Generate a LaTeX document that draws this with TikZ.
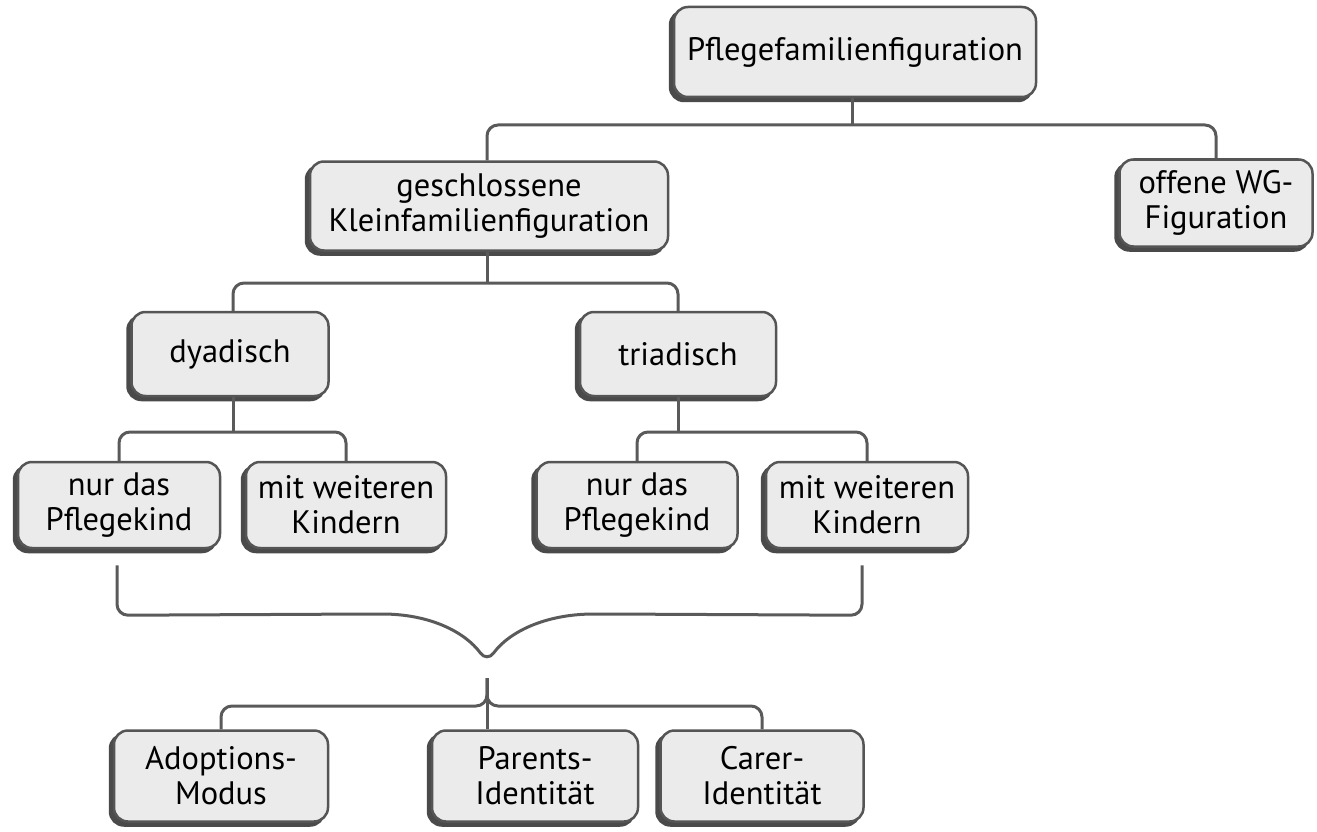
\documentclass[tikz,border=0pt]{standalone}
\usepackage{fontspec}
\setmainfont{PT Sans}
\usetikzlibrary{shadows,calc}
\definecolor{boxFill}{HTML}{EBEBEB}
\definecolor{boxLine}{HTML}{555555}
\definecolor{boxShadow}{HTML}{4A4A4A}
\definecolor{linkGray}{HTML}{5A5A5A}
\tikzset{
  figBox/.style={draw=boxLine, line width=2.5pt, fill=boxFill, rounded corners=14pt,
    align=center, inner sep=0pt, minimum height=87pt,
    general shadow={shadow xshift=-4pt, shadow yshift=-4pt, fill=boxShadow, draw=boxShadow, line width=2.5pt}},
  link/.style={draw=linkGray, line width=3pt, rounded corners=11pt}
}
\begin{document}
\begin{tikzpicture}[x=1pt, y=-1pt, font=\fontsize{32.5}{35}\selectfont]
\useasboundingbox (0,0) rectangle (1317,832);
% first level
\node[figBox, minimum width=362pt, minimum height=90pt] (pflege) at (855,52) {Pflegefamilienfiguration};
\node[figBox, minimum width=358pt, minimum height=89pt] (geschl) at (489,206) {geschlossene\\Kleinfamilienfiguration};
\node[figBox, minimum width=193pt] (offen) at (1216,203) {offene WG-\\Figuration};
% second level
\node[figBox, minimum width=197pt, minimum height=84pt] (dyad) at (230,354) {dyadisch};
\node[figBox, minimum width=196pt, minimum height=84pt] (triad) at (678,354) {triadisch};
% third level
\node[figBox, minimum width=202pt, minimum height=86pt] (dyadNur) at (119,505) {nur das\\Pflegekind};
\node[figBox, minimum width=200pt, minimum height=86pt] (dyadMit) at (346,505) {mit weiteren\\Kindern};
\node[figBox, minimum width=201pt, minimum height=86pt] (triadNur) at (637,505) {nur das\\Pflegekind};
\node[figBox, minimum width=202pt, minimum height=86pt] (triadMit) at (867,505) {mit weiteren\\Kindern};
% modes
\node[figBox, minimum width=214pt, minimum height=91pt] (adopt) at (221,776) {Adoptions-\\Modus};
\node[figBox, minimum width=206pt, minimum height=91pt] (parents) at (535,776) {Parents-\\Identität};
\node[figBox, minimum width=203pt, minimum height=91pt] (carer) at (762,776) {Carer-\\Identität};

\coordinate (j1) at (852,125);
\coordinate (j2) at (487,283);
\coordinate (j3) at (233,432);
\coordinate (j4) at (678,432);
\coordinate (tip) at (487,662);
\coordinate (stub) at (487,678);
\coordinate (j5) at (487,706);

\draw[link] (pflege.south -| j1) -- (j1);
\draw[link] (geschl.north -| j2) |- (j1) -| (offen.north);
\draw[link] (geschl.south -| j2) -- (j2);
\draw[link] (dyad.north -| j3) |- (j2) -| (triad.north -| j4);
\draw[link] (dyad.south -| j3) -- (j3);
\draw[link] (dyadNur.north) |- (j3) -| (dyadMit.north);
\draw[link] (triad.south -| j4) -- (j4);
\draw[link] (triadNur.north) |- (j4) -| (triadMit.north);

% brace
\draw[link] ($(dyadNur.south)+(-2,16)$) -- ($(dyadNur.south)+(-2,66)$) -- (371,614)
  .. controls (430,614) and (465,632) .. (tip)
  .. controls (509,632) and (545,614) .. (605,614) -- ($(triadMit.south)+(-5,66)$) -- ($(triadMit.south)+(-5,16)$);
\draw[link] (adopt.north) |- (j5) -- (stub);
\draw[link] (carer.north) |- (j5) -- (stub);
\draw[link] (stub) -- (parents.north -| stub);
\end{tikzpicture}
\end{document}
